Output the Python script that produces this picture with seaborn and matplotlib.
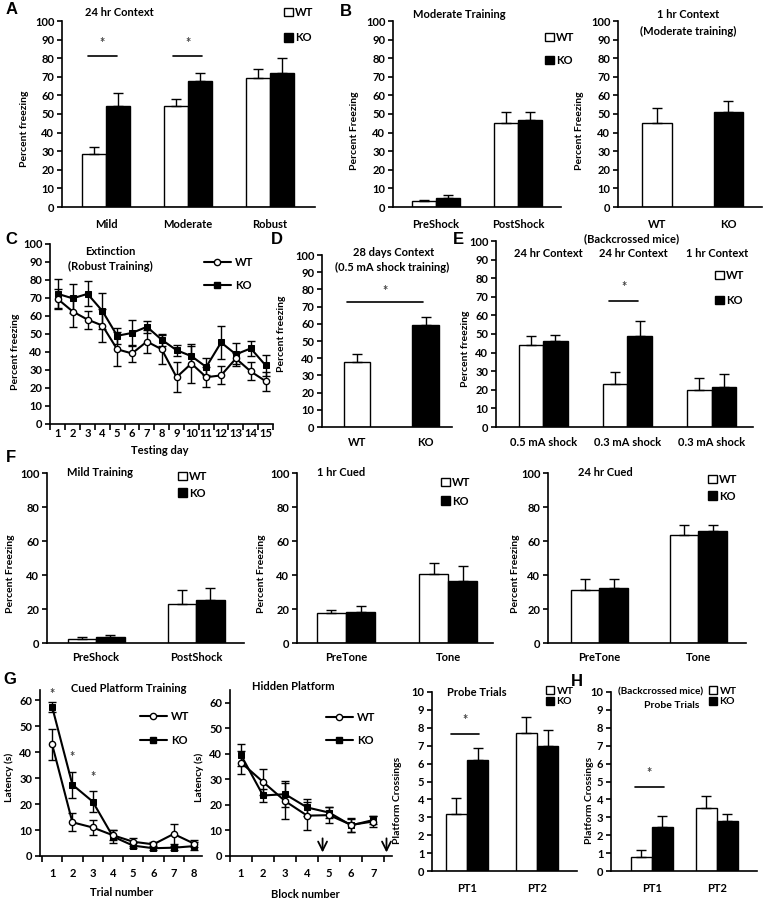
import numpy as np
import pandas as pd
import matplotlib
matplotlib.use("Agg")
import matplotlib.pyplot as plt
import seaborn as sns
from matplotlib.patches import Patch
from matplotlib.lines import Line2D

# ---------------- data ----------------
# A - 24 hr context
a_cats = ["Mild", "Moderate", "Robust"]
a_wt = [28.5, 54.5, 69.5]
a_ko = [54.5, 68, 72]
a_wt_err = [3.5, 3.5, 4.5]
a_ko_err = [7, 4, 8]

# B - moderate training
b1_cats = ["PreShock", "PostShock"]
b1_wt = [3, 45]
b1_ko = [5, 47]
b1_wt_err = [0.5, 6]
b1_ko_err = [1.5, 4]

b2_groups = ["WT", "KO"]
b2_vals = [45, 51]
b2_err = [8, 6]

# C - extinction
c_days = list(range(1, 16))
c_wt = [69.4, 62.5, 58, 54.7, 41.5, 39.2, 45.8, 41.5, 26, 33.6, 26, 27, 36.4, 29.2, 23.8]
c_ko = [72.3, 69.8, 72.3, 62.8, 49, 50.6, 54, 46.8, 41, 37.7, 31.7, 45.3, 38.7, 42, 32.6]
c_wt_err = [5.5, 8.5, 5, 9.4, 9.5, 4.7, 6.6, 8, 8.5, 10.6, 5.6, 5, 3, 5, 5.3]
c_ko_err = [8, 8, 7, 10, 4.4, 7, 3.5, 3.2, 3, 5.7, 4.7, 9.4, 6.5, 4, 6]

# D - 28 days context
d_groups = ["WT", "KO"]
d_vals = [38, 59.5]
d_err = [4.5, 4.5]

# E - backcrossed mice
e_conds = ["24h_0.5", "24h_0.3", "1h_0.3"]
e_ticklabels = ["0.5 mA shock", "0.3 mA shock", "0.3 mA shock"]
e_titles = ["24 hr Context", "24 hr Context", "1 hr Context"]
e_wt = [44, 23, 20]
e_ko = [46, 49, 21.5]
e_wt_err = [5, 6.5, 6.5]
e_ko_err = [3.5, 8, 7]

# F - mild training / cued
f1_cats = ["PreShock", "PostShock"]
f1_wt = [2.5, 23]
f1_ko = [3.5, 25.5]
f1_wt_err = [1, 8]
f1_ko_err = [1.5, 7]

f_tone_cats = ["PreTone", "Tone"]
f2_wt = [17.5, 40.5]
f2_ko = [18, 36.5]
f2_wt_err = [2, 6.3]
f2_ko_err = [4, 8.7]

f3_wt = [31, 63.4]
f3_ko = [32.6, 65.6]
f3_wt_err = [6.4, 6.1]
f3_ko_err = [4.8, 3.9]

# G - water maze
g1_trials = list(range(1, 9))
g1_wt = [43, 13, 11, 8, 5.5, 4.5, 8.5, 4.8]
g1_ko = [57.5, 27.5, 21, 7.5, 4, 3, 3.2, 3.8]
g1_wt_err = [6, 3.5, 3, 2, 1.5, 1, 3.8, 1.5]
g1_ko_err = [2, 5, 4, 2.5, 1, 0.8, 0.8, 1.5]

g2_blocks = list(range(1, 8))
g2_wt = [36.6, 29, 21.5, 15.8, 16, 12.2, 13.5]
g2_ko = [39.5, 23.7, 24.2, 19, 17, 12, 14.1]
g2_wt_err = [4.5, 5, 7, 5.5, 3.2, 2.8, 2]
g2_ko_err = [4.3, 2.5, 5.2, 3.3, 2.2, 2.5, 1.5]

probe_cats = ["PT1", "PT2"]
g3_wt = [3.2, 7.7]
g3_ko = [6.2, 7.0]
g3_wt_err = [0.9, 0.9]
g3_ko_err = [0.65, 0.9]

h_wt = [0.8, 3.5]
h_ko = [2.45, 2.8]
h_wt_err = [0.35, 0.7]
h_ko_err = [0.6, 0.4]

# ---------------- style ----------------
sns.set_style("ticks")
plt.rcParams["font.family"] = ["Lato", "DejaVu Sans"]
plt.rcParams["font.weight"] = "bold"
plt.rcParams["axes.labelweight"] = "bold"
plt.rcParams["font.size"] = 8
plt.rcParams["axes.edgecolor"] = "black"
plt.rcParams["axes.linewidth"] = 1.2
plt.rcParams["xtick.color"] = "black"
plt.rcParams["ytick.color"] = "black"
plt.rcParams["text.color"] = "black"
plt.rcParams["axes.labelcolor"] = "black"

PAL = {"WT": "white", "KO": "black"}
W, H = 766, 900
fig = plt.figure(figsize=(W / 100, H / 100), dpi=100)


def make_ax(l, r, t, b):
    return fig.add_axes([l / W, 1 - b / H, (r - l) / W, (b - t) / H])


def ftext(x, y, s, size=8, **kw):
    fig.text(x / W, 1 - y / H, s, ha="center", va="center",
             fontsize=size, fontweight="bold", **kw)


def to_axes(ax, x, y):
    bb = ax.get_position()
    return (x / W - bb.x0) / bb.width, ((1 - y / H) - bb.y0) / bb.height


def ylab(ax, s, x, y):
    ax.set_ylabel(s, fontsize=7.5, fontweight="bold", va="center")
    ax.yaxis.set_label_coords(*to_axes(ax, x, y))


def xlab(ax, s, x, y):
    ax.set_xlabel(s, fontsize=8, fontweight="bold", va="center")
    ax.xaxis.set_label_coords(*to_axes(ax, x, y))


def style(ax, ylim, yticks, xlim, xpad):
    sns.despine(ax=ax)
    ax.set_ylim(*ylim)
    ax.set_yticks(yticks)
    ax.set_xlim(*xlim)
    ax.tick_params(axis="y", length=3.5, width=1.2, pad=2, labelsize=8)
    ax.tick_params(axis="x", length=0, pad=xpad, labelsize=8)
    for t in ax.get_xticklabels() + ax.get_yticklabels():
        t.set_fontweight("bold")


def add_err(ax, vals, errs, cap=3.5):
    for bar, v, e in zip(ax.patches, vals, errs):
        cx = bar.get_x() + bar.get_width() / 2
        ax.errorbar(cx, v, yerr=[[0], [e]], fmt="none", ecolor="black",
                    elinewidth=1, capsize=cap, capthick=1, zorder=3)


def bar_panel(ax, cats, wt, ko, wt_err, ko_err, width):
    df = pd.DataFrame({
        "cond": list(cats) * 2,
        "group": ["WT"] * len(cats) + ["KO"] * len(cats),
        "value": list(wt) + list(ko),
    })
    sns.barplot(data=df, x="cond", y="value", hue="group", order=list(cats),
                hue_order=["WT", "KO"], palette=PAL, edgecolor="black",
                linewidth=1, width=width, saturation=1, errorbar=None,
                legend=False, ax=ax)
    add_err(ax, df["value"], list(wt_err) + list(ko_err))
    ax.set_xlabel("")
    ax.set_ylabel("")


def single_bar_panel(ax, groups, vals, errs, width):
    df = pd.DataFrame({"group": groups, "value": vals})
    sns.barplot(data=df, x="group", y="value", hue="group", order=groups,
                hue_order=groups, palette=PAL, edgecolor="black", linewidth=1,
                width=width, saturation=1, errorbar=None, legend=False, ax=ax)
    add_err(ax, vals, errs)
    ax.set_xlabel("")
    ax.set_ylabel("")


def line_panel(ax, x, wt, ko, wt_err, ko_err):
    ax.errorbar(x, wt, yerr=wt_err, fmt="none", ecolor="black", elinewidth=1,
                capsize=3, capthick=1, zorder=1)
    ax.errorbar(x, ko, yerr=ko_err, fmt="none", ecolor="black", elinewidth=1,
                capsize=3, capthick=1, zorder=1)
    sns.lineplot(x=x, y=ko, color="black", marker="s", markersize=5,
                 markeredgecolor="black", lw=1.5, ax=ax, zorder=3)
    sns.lineplot(x=x, y=wt, color="black", marker="o", markersize=4.5,
                 markerfacecolor="white", markeredgecolor="black",
                 markeredgewidth=1, lw=1.5, ax=ax, zorder=4)
    ax.set_xticks(x)
    ax.set_xticks(np.arange(x[0] - 0.5, x[-1] + 1, 1), minor=True)
    ax.tick_params(axis="x", which="minor", length=4, width=1.2, direction="out")


def box_legend(ax, x, y, spacing, size=8):
    handles = [Patch(facecolor="white", edgecolor="black", lw=1),
               Patch(facecolor="black", edgecolor="black", lw=1)]
    ax.legend(handles, ["WT", "KO"], loc="upper left",
              bbox_to_anchor=(x / W, 1 - (y - 6) / H), bbox_transform=fig.transFigure,
              frameon=False, handlelength=0.8, handleheight=0.8, handletextpad=0.2,
              borderpad=0, borderaxespad=0, labelspacing=spacing,
              prop={"size": size, "weight": "bold"})


def line_legend(ax, x, y, spacing):
    handles = [Line2D([0], [0], color="black", lw=1.5, marker="o", ms=4.5,
                      mfc="white", mec="black"),
               Line2D([0], [0], color="black", lw=1.5, marker="s", ms=5,
                      mfc="black", mec="black")]
    ax.legend(handles, ["WT", "KO"], loc="upper left",
              bbox_to_anchor=(x / W, 1 - (y - 6) / H), bbox_transform=fig.transFigure,
              frameon=False, handlelength=2.4, handletextpad=0.4,
              borderpad=0, borderaxespad=0, labelspacing=spacing,
              prop={"size": 8, "weight": "bold"})


def sig(ax, x0, x1, y, ystar):
    ax.plot([x0, x1], [y, y], color="black", lw=1.2)
    ax.text((x0 + x1) / 2, ystar, "*", ha="center", va="center",
            fontsize=9, fontweight="bold", color="#444444")


# ---------------- A ----------------
ax = make_ax(62, 315, 21, 207)
bar_panel(ax, a_cats, a_wt, a_ko, a_wt_err, a_ko_err, 0.59)
style(ax, (0, 100), range(0, 101, 10), (-0.54, 2.55), 9)
ylab(ax, "Percent freezing", 25, 129)
box_legend(ax, 284, 13, 1.3)
sig(ax, -0.22, 0.13, 81, 88)
sig(ax, 0.82, 1.17, 81, 88)
ftext(119, 13, "24 hr Context")

# ---------------- B ----------------
ax = make_ax(393, 561, 21, 207)
bar_panel(ax, b1_cats, b1_wt, b1_ko, b1_wt_err, b1_ko_err, 0.59)
style(ax, (0, 100), range(0, 101, 10), (-0.52, 1.52), 9)
ylab(ax, "Percent Freezing", 355, 131)
box_legend(ax, 545, 38, 1.05)
ftext(459, 15, "Moderate Training")

ax = make_ax(618, 762, 21, 207)
single_bar_panel(ax, b2_groups, b2_vals, b2_err, 0.42)
style(ax, (0, 100), range(0, 101, 10), (-0.55, 1.47), 9)
ylab(ax, "Percent Freezing", 580, 131)
ftext(688, 15, "1 hr Context")
ftext(688, 31, "(Moderate training)")

# ---------------- C ----------------
ax = make_ax(50, 273, 244, 424)
line_panel(ax, c_days, c_wt, c_ko, c_wt_err, c_ko_err)
style(ax, (0, 100), range(0, 101, 10), (0.47, 15.5), 3)
ylab(ax, "Percent freezing", 15, 352)
xlab(ax, "Testing day", 160, 450)
line_legend(ax, 204, 263, 1.05)
ftext(110, 251, "Extinction")
ftext(110, 266, "(Robust Training)")

# ---------------- D ----------------
ax = make_ax(322, 452, 255, 427)
single_bar_panel(ax, d_groups, d_vals, d_err, 0.39)
style(ax, (0, 100), range(0, 101, 10), (-0.51, 1.38), 7)
ylab(ax, "Percent freezing", 282, 334)
sig(ax, -0.14, 0.96, 72.5, 79)
ftext(394, 252, "28 days Context")
ftext(392, 267, "(0.5 mA shock training)")

# ---------------- E ----------------
ax = make_ax(496, 753, 241, 427)
bar_panel(ax, e_conds, e_wt, e_ko, e_wt_err, e_ko_err, 0.58)
ax.set_xticks(range(len(e_conds)))
ax.set_xticklabels(e_ticklabels)
style(ax, (0, 100), range(0, 101, 10), (-0.56, 2.49), 7)
ylab(ax, "Percent freezing", 466, 349)
box_legend(ax, 715, 276, 1.25)
sig(ax, 0.78, 1.13, 68, 75)
ftext(632, 239, "(Backcrossed mice)")
for xc, t in zip([548, 633, 717], e_titles):
    ftext(xc, 254, t)

# ---------------- F ----------------
f_specs = [
    ((47, 244), f1_cats, f1_wt, f1_ko, f1_wt_err, f1_ko_err, (-0.49, 1.48),
     11, (178, 477, 0.5), (100, 472, "Mild Training")),
    ((297, 493), f_tone_cats, f2_wt, f2_ko, f2_wt_err, f2_ko_err, (-0.48, 1.44),
     262, (441, 483, 0.68), (341, 473, "1 hr Cued")),
    ((548, 746), f_tone_cats, f3_wt, f3_ko, f3_wt_err, f3_ko_err, (-0.52, 1.48),
     516, (708, 480, 0.5), (605, 472, "24 hr Cued")),
]
for (l, r), cats, wt, ko, we, ke, xl, ylx, leg, ttl in f_specs:
    ax = make_ax(l, r, 473, 643)
    bar_panel(ax, cats, wt, ko, we, ke, 0.57)
    style(ax, (0, 100), range(0, 101, 20), xl, 6.5)
    ylab(ax, "Percent Freezing", ylx, 574)
    box_legend(ax, *leg)
    ftext(ttl[0], ttl[1], ttl[2])

# ---------------- G ----------------
ax = make_ax(40, 202, 690, 856)
line_panel(ax, g1_trials, g1_wt, g1_ko, g1_wt_err, g1_ko_err)
style(ax, (0, 64), range(0, 61, 10), (0.4, 8.4), 8.5)
ylab(ax, "Latency (s)", 9, 777)
xlab(ax, "Trial number", 122, 892)
line_legend(ax, 140, 717, 1.15)
for xs, ys in zip([1, 2, 3], [62.5, 38, 30.5]):
    ax.text(xs, ys, "*", ha="center", va="center", fontsize=9,
            fontweight="bold", color="#444444")
ftext(129, 688, "Cued Platform Training")

ax = make_ax(230, 392, 690, 856)
line_panel(ax, g2_blocks, g2_wt, g2_ko, g2_wt_err, g2_ko_err)
style(ax, (0, 65), range(0, 61, 10), (0.5, 7.85), 8.5)
ylab(ax, "Latency (s)", 199, 777)
xlab(ax, "Block number", 305, 894)
line_legend(ax, 326, 718, 1.05)
for xa in [4.7, 7.6]:
    ax.annotate("", xy=(xa, 0.3), xytext=(xa, 8),
                arrowprops=dict(arrowstyle="->", lw=1.3, color="black",
                                mutation_scale=16))
ftext(293, 687, "Hidden Platform")

ax = make_ax(432, 577, 692, 871)
bar_panel(ax, probe_cats, g3_wt, g3_ko, g3_wt_err, g3_ko_err, 0.61)
style(ax, (0, 10), range(0, 11), (-0.5, 1.57), 8.5)
ylab(ax, "Platform Crossings", 397, 800)
box_legend(ax, 546, 692, 0.12, size=7.5)
sig(ax, -0.23, 0.17, 7.67, 8.45)
ftext(477, 692, "Probe Trials")

# ---------------- H ----------------
ax = make_ax(611, 757, 692, 871)
bar_panel(ax, probe_cats, h_wt, h_ko, h_wt_err, h_ko_err, 0.65)
style(ax, (0, 10), range(0, 11), (-0.63, 1.62), 8.5)
ylab(ax, "Platform Crossings", 589, 800)
box_legend(ax, 709, 692, 0.12, size=7.5)
sig(ax, -0.26, 0.18, 4.7, 5.45)
ftext(661, 692, "(Backcrossed mice)", size=7.2)
ftext(672, 706, "Probe Trials", size=7.5)

# panel letters
for (lx, ly), letter in zip([(12, 10), (346, 12), (11, 240), (277, 239), (458, 239),
                             (11, 457), (10, 679), (577, 681)], "ABCDEFGH"):
    ftext(lx, ly, letter, size=12, family=["Liberation Sans", "DejaVu Sans"])

fig.savefig("out.png", dpi=100, facecolor="white")
